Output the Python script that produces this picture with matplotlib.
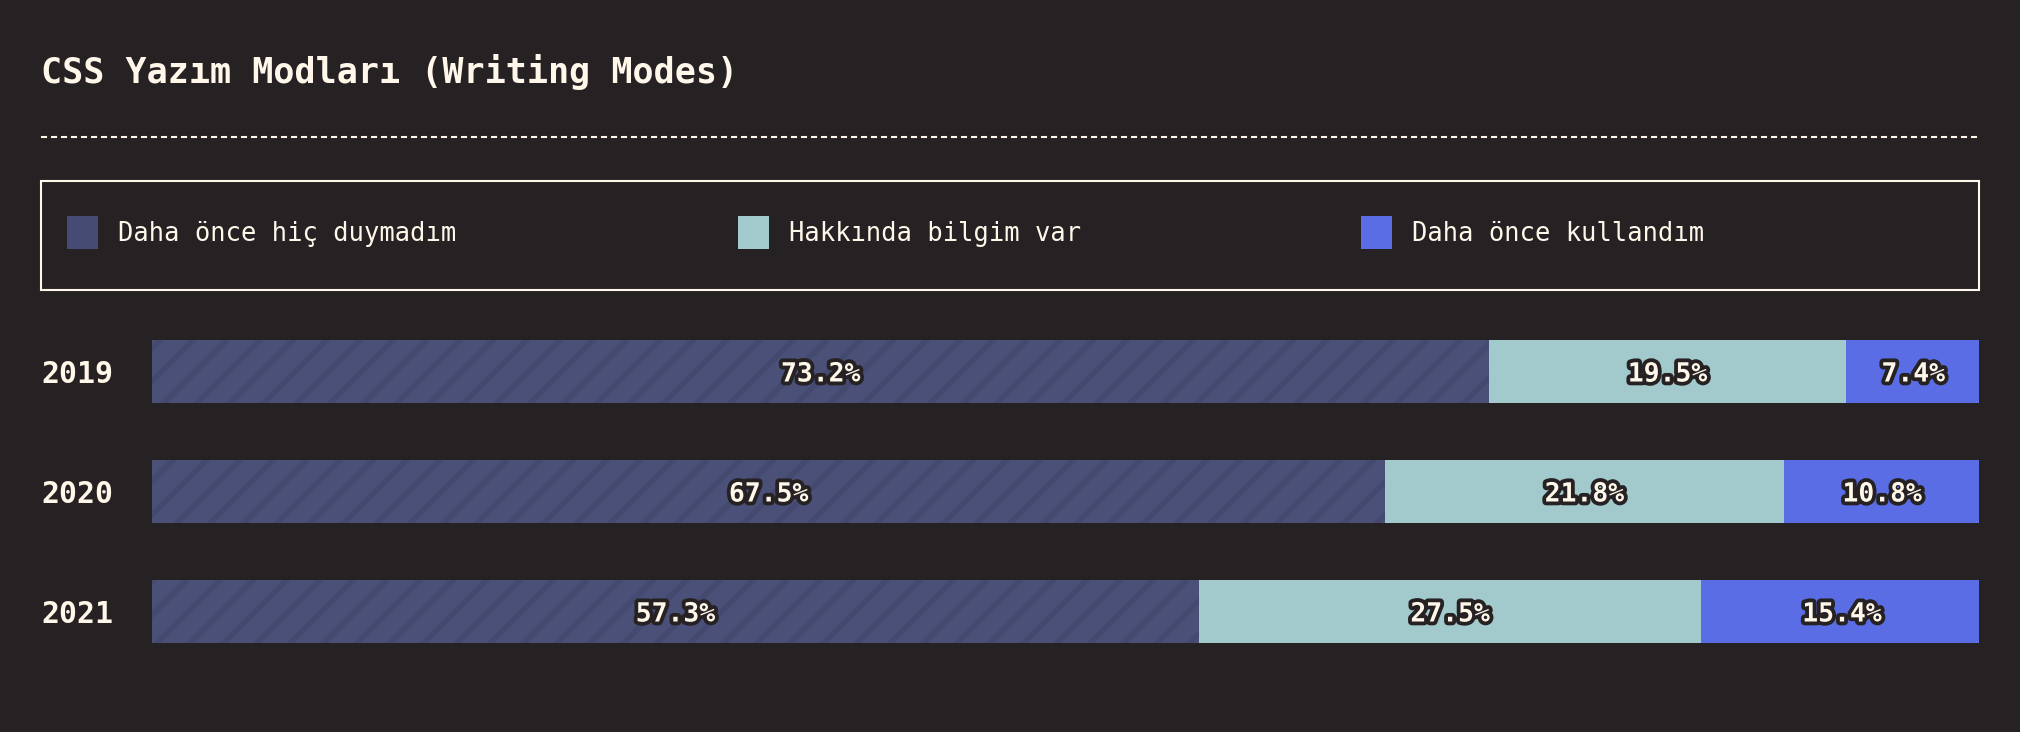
import matplotlib
matplotlib.use("Agg")
import matplotlib.pyplot as plt
import matplotlib.patheffects as pe
from matplotlib.patches import Rectangle
from matplotlib.lines import Line2D
from matplotlib.transforms import blended_transform_factory
import numpy as np

# ---- data ----
title = "CSS Yazım Modları (Writing Modes)"
years = ["2019", "2020", "2021"]
series = ["Daha önce hiç duymadım", "Hakkında bilgim var", "Daha önce kullandım"]
never_heard = [73.2, 67.5, 57.3]
know_about = [19.5, 21.8, 27.5]
used = [7.4, 10.8, 15.4]
values = [never_heard, know_about, used]

# ---- style ----
BG = "#262224"
CREAM = "#fff8ea"
colors = ["#4a5078", "#a2c9cb", "#5a6de5"]
legend_colors = ["#454b73", "#a2c9cb", "#5a6de5"]
hatch_color = "#444a6f"
FONT = "DejaVu Sans Mono"
W, H = 2020, 732

plt.rcParams["font.family"] = [FONT, "DejaVu Sans"]
plt.rcParams["hatch.linewidth"] = 4.0

fig = plt.figure(figsize=(W / 100, H / 100), dpi=100, facecolor=BG)

def fx(px):
    return px / W

def fy(py):
    return 1 - py / H

# title
fig.text(fx(41), fy(83), title, color=CREAM, fontsize=25.2, fontweight="bold",
         ha="left", va="baseline", family=FONT)

# dashed separator
fig.add_artist(Line2D([fx(41), fx(1979)], [fy(137), fy(137)], color=CREAM,
                      lw=1.5, linestyle=(0, (2.9, 1.9)), transform=fig.transFigure))

# legend box
fig.add_artist(Rectangle((fx(41), fy(290)), fx(1979) - fx(41), fy(181) - fy(290),
                         transform=fig.transFigure, fill=False, edgecolor=CREAM, lw=1.5))
leg_x = [67, 738, 1361]
for i, (name, c) in enumerate(zip(series, legend_colors)):
    fig.add_artist(Rectangle((fx(leg_x[i]), fy(249)), fx(31), 33 / H,
                             transform=fig.transFigure, facecolor=c, edgecolor="none"))
    fig.text(fx(leg_x[i] + 51), fy(234), name, color=CREAM, fontsize=18.4,
             ha="left", va="center", family=FONT)

# bars axes
top, bottom = 340, 643
ax = fig.add_axes([fx(152), fy(bottom), fx(1979) - fx(152), (bottom - top) / H])
ax.set_facecolor(BG)
bar_h = 63 / 120
y = np.arange(len(years))
left = np.zeros(len(years))
for i, (vals, c) in enumerate(zip(values, colors)):
    vals = np.array(vals)
    if i == 0:
        ax.barh(y, vals, left=left, height=bar_h, color=c, edgecolor=hatch_color,
                linewidth=0, hatch="/")
    else:
        ax.barh(y, vals, left=left, height=bar_h, color=c, linewidth=0)
    for yi, l, v in zip(y, left, vals):
        ax.text(l + v / 2, yi, f"{v:.1f}%", ha="center", va="center_baseline",
                color=CREAM, fontsize=19, fontweight="bold", family=FONT,
                path_effects=[pe.withStroke(linewidth=5.5, foreground=BG)])
    left = left + vals

ax.set_xlim(0, 100)
ax.set_ylim(len(years) - 1 + bar_h / 2, -bar_h / 2)
ax.axis("off")

trans = blended_transform_factory(fig.transFigure, ax.transData)
for yi, yr in zip(y, years):
    ax.text(fx(41), yi, yr, transform=trans, ha="left", va="center_baseline",
            color=CREAM, fontsize=21.5, fontweight="bold", family=FONT)

fig.savefig("out.png", dpi=100, facecolor=BG)
